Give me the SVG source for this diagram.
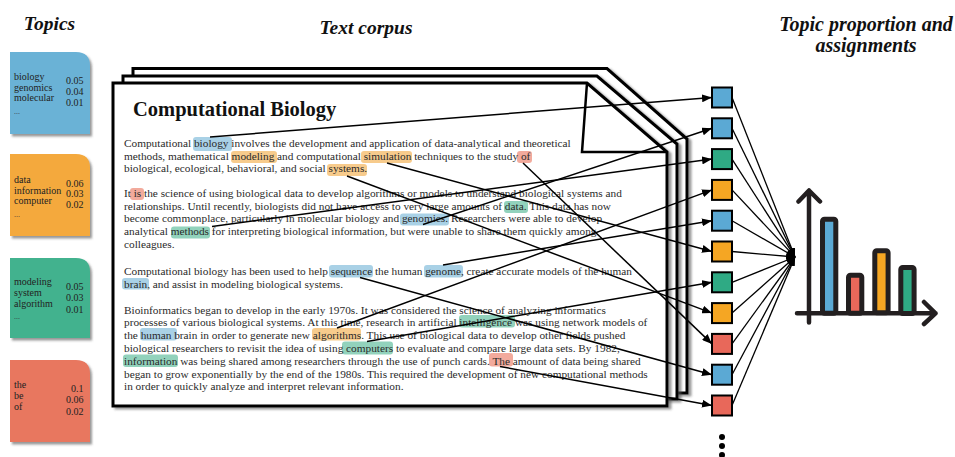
<svg xmlns="http://www.w3.org/2000/svg" width="955" height="457" viewBox="0 0 955 457">
<defs>
<filter id="sh" x="-10%" y="-10%" width="130%" height="130%"><feDropShadow dx="2" dy="2.5" stdDeviation="1.2" flood-color="#444" flood-opacity="0.55"/></filter>
<filter id="psh" x="-5%" y="-5%" width="115%" height="115%"><feDropShadow dx="3" dy="2" stdDeviation="1.2" flood-color="#555" flood-opacity="0.6"/></filter>
<marker id="ah" viewBox="0 0 10 8" refX="10" refY="4" markerWidth="10" markerHeight="8" markerUnits="userSpaceOnUse" orient="auto"><path d="M0,0 L10,4 L0,8 Z" fill="#000"/></marker>
<marker id="ah2" viewBox="0 0 10 8" refX="10" refY="4" markerWidth="9" markerHeight="7" markerUnits="userSpaceOnUse" orient="auto"><path d="M0,0 L10,4 L0,8 Z" fill="#000"/></marker>
</defs>
<style>
.ttl{font-family:"Liberation Serif",serif;font-weight:bold;font-style:italic;fill:#111}
.ct{font-family:"Liberation Serif",serif;font-size:10px;fill:#222}
.num{text-anchor:end}
.dots{font-family:"Liberation Serif",serif;font-size:8px;fill:#333}
.body{font-family:"Liberation Serif",serif;font-size:11.3px;fill:#2a2a2a}
.page{fill:#fff;stroke:#000;stroke-width:3;stroke-linejoin:miter}
.hb{fill:#a9d1e6}.ho{fill:#f7cb8c}.hr{fill:#f2aa9c}.hg{fill:#92d2bc}
.conn line{stroke:#000;stroke-width:1.5;marker-end:url(#ah)}
.conv line{stroke:#000;stroke-width:1.3;marker-end:url(#ah2)}
.sq{stroke:#000;stroke-width:2}
.cb{fill:#6bb2d6}.co{fill:#f4a93c}.cg{fill:#43b28e}.cr{fill:#e8775f}
.sb{fill:#5ba9d4}.so{fill:#f5a623}.sg{fill:#2faa84}.sr{fill:#e8685a}
.axis{fill:none;stroke:#231f20;stroke-width:4.5;stroke-linecap:round;stroke-linejoin:round}
.bar{stroke:#231f20;stroke-width:5;stroke-linejoin:round}
</style>

<!-- Titles -->
<text class="ttl" x="49.5" y="29.5" font-size="19.5" text-anchor="middle">Topics</text>
<text class="ttl" x="366" y="34" font-size="19.5" text-anchor="middle">Text corpus</text>
<text class="ttl" x="866" y="31" font-size="20" text-anchor="middle">Topic proportion and</text>
<text class="ttl" x="866" y="51.5" font-size="20" text-anchor="middle">assignments</text>

<!-- Topic cards -->
<g id="topic-biology">
<path class="cb" filter="url(#sh)" d="M10,52 H76 Q90,52 90,66 V134 H10 Z"/>
<text class="ct" x="14" y="79.5">biology</text>
<text class="ct" x="14" y="90.5">genomics</text>
<text class="ct" x="14" y="101">molecular</text>
<text class="dots" x="14" y="113.5">...</text>
<text class="ct num" x="83.5" y="83.5">0.05</text>
<text class="ct num" x="83.5" y="94.5">0.04</text>
<text class="ct num" x="83.5" y="105.5">0.01</text>
</g>
<g id="topic-data">
<path class="co" filter="url(#sh)" d="M10,154 H76 Q90,154 90,168 V236 H10 Z"/>
<text class="ct" x="14" y="182.7">data</text>
<text class="ct" x="14" y="194">information</text>
<text class="ct" x="14" y="204.3">computer</text>
<text class="dots" x="14" y="216.5">...</text>
<text class="ct num" x="83.5" y="186.7">0.06</text>
<text class="ct num" x="83.5" y="197.3">0.03</text>
<text class="ct num" x="83.5" y="208.3">0.02</text>
</g>
<g id="topic-modeling">
<path class="cg" filter="url(#sh)" d="M10,258 H76 Q90,258 90,272 V338 H10 Z"/>
<text class="ct" x="14" y="285">modeling</text>
<text class="ct" x="14" y="296">system</text>
<text class="ct" x="14" y="306.7">algorithm</text>
<text class="dots" x="14" y="319">...</text>
<text class="ct num" x="83.5" y="290">0.05</text>
<text class="ct num" x="83.5" y="300.7">0.03</text>
<text class="ct num" x="83.5" y="312.7">0.01</text>
</g>
<g id="topic-the">
<path class="cr" filter="url(#sh)" d="M10,360 H76 Q90,360 90,374 V442 H10 Z"/>
<text class="ct" x="14" y="388.3">the</text>
<text class="ct" x="14" y="399.3">be</text>
<text class="ct" x="14" y="410">of</text>
<text class="ct num" x="83.5" y="391.7">0.1</text>
<text class="ct num" x="83.5" y="403.3">0.06</text>
<text class="ct num" x="83.5" y="415">0.02</text>
</g>

<!-- Document stack -->
<g id="corpus">
<path class="page" filter="url(#psh)" d="M133,68.5 H607 L687,139 V393 H133 Z"/>
<path class="page" filter="url(#psh)" d="M123,76 H597 L677,144 V399 H123 Z"/>
<path class="page" filter="url(#psh)" d="M113,83 H587 L667,152 V406 H113 Z"/>
<path fill="none" stroke="#000" stroke-width="2.5" d="M587,83 L582,152 H667"/>

<text x="133" y="115.5" font-family="Liberation Serif, serif" font-weight="bold" font-size="20.5" fill="#111">Computational Biology</text>

<!-- highlights -->
<rect class="hb" x="193" y="137" width="39" height="14" rx="3"/>
<rect class="ho" x="231" y="151" width="46" height="12" rx="3"/>
<rect class="ho" x="361" y="151" width="51" height="12" rx="3"/>
<rect class="hr" x="517" y="151" width="15" height="12" rx="3"/>
<rect class="ho" x="327" y="164" width="40" height="12" rx="3"/>
<rect class="hr" x="130" y="188" width="14" height="12" rx="3"/>
<rect class="hg" x="504" y="201" width="24" height="12" rx="3"/>
<rect class="hb" x="400" y="213.5" width="49" height="12" rx="3"/>
<rect class="hg" x="171" y="226.5" width="39" height="12" rx="3"/>
<rect class="hb" x="329" y="265" width="44" height="12.5" rx="3"/>
<rect class="hb" x="424" y="265" width="39" height="12.5" rx="3"/>
<rect class="hb" x="122" y="278" width="27" height="11.5" rx="3"/>
<rect class="hg" x="459" y="315" width="56" height="12.5" rx="3"/>
<rect class="hb" x="140" y="328" width="37" height="12.5" rx="3"/>
<rect class="ho" x="312" y="328" width="49" height="12.5" rx="3"/>
<rect class="hg" x="342" y="341.5" width="51" height="13" rx="3"/>
<rect class="hg" x="123" y="354.5" width="55" height="12.5" rx="3"/>
<rect class="hr" x="489" y="353" width="24" height="13.5" rx="3"/>

<text class="body" x="124" y="146.8">Computational biology involves the development and application of data-analytical and theoretical</text>
<text class="body" x="124" y="159.6">methods, mathematical modeling and computational simulation techniques to the study of</text>
<text class="body" x="124" y="172.4">biological, ecological, behavioral, and social systems.</text>

<text class="body" x="124" y="196.8">It is the science of using biological data to develop algorithms or models to understand biological systems and</text>
<text class="body" x="124" y="209.6">relationships. Until recently, biologists did not have access to very large amounts of data. This data has now</text>
<text class="body" x="124" y="222.4">become commonplace, particularly in molecular biology and genomics. Researchers were able to develop</text>
<text class="body" x="124" y="235.2">analytical methods for interpreting biological information, but were unable to share them quickly among</text>
<text class="body" x="124" y="248">colleagues.</text>

<text class="body" x="124" y="275.2">Computational biology has been used to help sequence the human genome, create accurate models of the human</text>
<text class="body" x="124" y="288">brain, and assist in modeling biological systems.</text>

<text class="body" x="124" y="313.5">Bioinformatics began to develop in the early 1970s. It was considered the science of analyzing informatics</text>
<text class="body" x="124" y="326.3">processes of various biological systems. At this time, research in artificial intelligence was using network models of</text>
<text class="body" x="124" y="339.1">the human brain in order to generate new algorithms. This use of biological data to develop other fields pushed</text>
<text class="body" x="124" y="351.9">biological researchers to revisit the idea of using computers to evaluate and compare large data sets. By 1982,</text>
<text class="body" x="124" y="364.7">information was being shared among researchers through the use of punch cards. The amount of data being shared</text>
<text class="body" x="124" y="377.5">began to grow exponentially by the end of the 1980s. This required the development of new computational methods</text>
<text class="body" x="124" y="390.3">in order to quickly analyze and interpret relevant information.</text>
</g>

<!-- Assignment squares -->
<g id="sq0"><rect class="sq sb" x="712" y="87.5" width="20" height="20"/></g>
<g id="sq1"><rect class="sq sb" x="712" y="118.3" width="20" height="20"/></g>
<g id="sq2"><rect class="sq sg" x="712" y="149.1" width="20" height="20"/></g>
<g id="sq3"><rect class="sq so" x="712" y="179.9" width="20" height="20"/></g>
<g id="sq4"><rect class="sq sb" x="712" y="210.7" width="20" height="20"/></g>
<g id="sq5"><rect class="sq so" x="712" y="241.5" width="20" height="20"/></g>
<g id="sq6"><rect class="sq sg" x="712" y="272.3" width="20" height="20"/></g>
<g id="sq7"><rect class="sq so" x="712" y="303.1" width="20" height="20"/></g>
<g id="sq8"><rect class="sq sr" x="712" y="333.9" width="20" height="20"/></g>
<g id="sq9"><rect class="sq sb" x="712" y="364.7" width="20" height="20"/></g>
<g id="sq10"><rect class="sq sr" x="712" y="395.5" width="20" height="20"/></g>
<g id="more"><circle cx="722" cy="437" r="3" fill="#000"/><circle cx="722" cy="446" r="3" fill="#000"/><circle cx="722" cy="455" r="3" fill="#000"/></g>

<!-- Connectors -->
<g id="connectors">
<g class="conn">
<line x1="210" y1="137" x2="712" y2="97.5"/>
<line x1="423" y1="224.5" x2="712" y2="128.3"/>
<line x1="212" y1="226.5" x2="712" y2="159.1"/>
<line x1="337" y1="328" x2="712" y2="189.9"/>
<line x1="443" y1="265" x2="712" y2="220.7"/>
<line x1="387" y1="163" x2="712" y2="251.5"/>
<line x1="367" y1="341.5" x2="712" y2="282.3"/>
<line x1="347" y1="176" x2="712" y2="313.1"/>
<line x1="523" y1="163" x2="712" y2="343.9"/>
<line x1="360" y1="277.5" x2="712" y2="374.7"/>
<line x1="500" y1="366.5" x2="712" y2="405.5"/>
</g>
<g class="conv">
<line x1="732" y1="97.5" x2="795" y2="257"/>
<line x1="732" y1="128.3" x2="795" y2="257"/>
<line x1="732" y1="159.1" x2="795" y2="257"/>
<line x1="732" y1="189.9" x2="795" y2="257"/>
<line x1="732" y1="220.7" x2="795" y2="257"/>
<line x1="732" y1="251.5" x2="795" y2="257"/>
<line x1="732" y1="282.3" x2="795" y2="257"/>
<line x1="732" y1="313.1" x2="795" y2="257"/>
<line x1="732" y1="343.9" x2="795" y2="257"/>
<line x1="732" y1="374.7" x2="795" y2="257"/>
<line x1="732" y1="405.5" x2="795" y2="257"/>
</g>
</g>

<!-- Bar chart -->
<g id="chart">
<rect class="bar sb" x="822.5" y="219.2" width="13.3" height="94" rx="2"/>
<rect class="bar sr" x="848.5" y="275.2" width="13.3" height="38" rx="2"/>
<rect class="bar so" x="874.8" y="250.8" width="13.3" height="62" rx="2"/>
<rect class="bar sg" x="900.8" y="267.5" width="13.3" height="46" rx="2"/>
<path class="axis" d="M809,191 V322.5 M797,313.3 H935.5 M798.5,201.5 L809,190.5 L820,201.5 M924,302 L935.5,313.3 L924,324"/>
</g>
</svg>
